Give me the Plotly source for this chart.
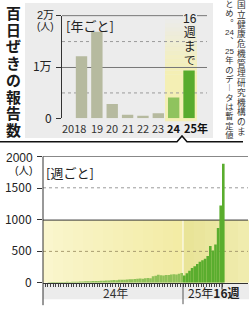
import plotly.graph_objects as go

# ---------------- data ----------------
year_labels = ["2018", "19", "20", "21", "22", "23", "24", "25年"]
annual_cases = [12117, 16850, 2794, 702, 495, 1000, 4054, 9300]

weekly_2024 = [8, 10, 9, 11, 10, 12, 10, 13, 12, 14, 13, 15,
               18, 20, 22, 21, 24, 26, 25, 28, 30, 29, 33, 35,
               38, 42, 40, 45, 48, 46, 52, 55, 53, 58,
               62, 66, 64, 70, 75, 72,
               100, 110, 125, 118, 115, 122, 120, 128, 132, 128, 140, 155]
weekly_2025 = [113, 150, 190, 232, 260, 295, 330, 356, 380, 423,
               580, 510, 605, 865, 1225, 1884]

top_ticks = [0, 10000, 20000]
top_ticktext = ["0", "1万", ""]
bottom_ticks = [0, 500, 1000, 1500, 2000]
bottom_ticktext = ["0", "500", "1000", "1500", ""]

title_text = "百日ぜきの報告数"
note_col1 = list("国立健康危機管理研究機構のま")
note_col2 = ["と", "め", "︒", "24", "︑", "25", "年", "の", "デ", "︱", "タ", "は", "暫", "定", "値"]
until_text = ["16", "週", "ま", "で"]

W, H = 251, 320
FONT = "Noto Sans CJK JP"
VFONT = "Liberation Sans, Noto Sans CJK JP"


def px(x):
    return x / W


def py(y):
    return 1 - y / H


fig = go.Figure()

bar_colors = ["#b6ba9f"] * 6 + ["#8fc35e", "#58ab2d"]
fig.add_trace(go.Bar(x=list(range(len(annual_cases))), y=annual_cases, width=0.74,
                     marker=dict(color=bar_colors, line=dict(width=0)),
                     xaxis="x", yaxis="y", hoverinfo="skip"))
fig.add_trace(go.Bar(x=list(range(len(weekly_2024))), y=weekly_2024, width=1.0,
                     marker=dict(color="#8fc158", line=dict(width=0)),
                     xaxis="x2", yaxis="y2", hoverinfo="skip"))
n24 = len(weekly_2024)
fig.add_trace(go.Bar(x=list(range(n24, n24 + len(weekly_2025))), y=weekly_2025, width=1.0,
                     marker=dict(color="#5aad2e", line=dict(width=0)),
                     xaxis="x2", yaxis="y2", hoverinfo="skip"))

shapes = []


def rect(x0, y0, x1, y1, color, layer="below"):
    shapes.append(dict(type="rect", xref="paper", yref="paper",
                       x0=px(x0), x1=px(x1), y0=py(y1), y1=py(y0),
                       fillcolor=color, line=dict(width=0), layer=layer))


def hline(x0, x1, y, color, width=1, dash="solid", layer="below"):
    shapes.append(dict(type="line", xref="paper", yref="paper",
                       x0=px(x0), x1=px(x1), y0=py(y), y1=py(y),
                       line=dict(color=color, width=width, dash=dash), layer=layer))


def vline(x, y0, y1, color, width=1, layer="below"):
    shapes.append(dict(type="line", xref="paper", yref="paper",
                       x0=px(x), x1=px(x), y0=py(y0), y1=py(y1),
                       line=dict(color=color, width=width), layer=layer))


# top panel background
rect(25, 3, 213, 141, "#ececec")
# yellow highlight behind 24/25 (gradient via strips)
n = 14
for k in range(n):
    y0 = 20 + k * 4
    a = (k + 1) / n
    rect(165, y0, 197, y0 + 4, f"rgba(246,240,170,{a * 0.85:.3f})")
rect(165, 20 + n * 4, 197, 124, "rgba(246,240,170,0.85)")

# top grid lines
hline(62, 207, 16, "#777", 1)
hline(62, 207, 69, "#777", 1)
hline(62, 207, 42.5, "#9a9a9a", 1, "dot")
hline(62, 207, 95, "#9a9a9a", 1, "dot")
rect(183, 13, 197, 19, "#ececec")  # gap in top line behind "16"

# bottom chart backgrounds
m = 14
for k in range(m):
    x0 = 43 + k * 10
    t = k / (m - 1)
    r = int(250 - 7 * t)
    g = int(246 - 10 * t)
    b = int(205 - 40 * t)
    rect(x0, 225, min(x0 + 10.5, 183), 289, f"rgb({r},{g},{b})")
for k in range(6):
    x0 = 183 + k * 11
    t = k / 5
    r = int(233 + 7 * t)
    g = int(228 + 8 * t)
    b = int(152 + 22 * t)
    rect(x0, 225, min(x0 + 11.5, 249), 289, f"rgb({r},{g},{b})")
vline(183, 225, 289, "white", 1)
# label band under weekly axis
rect(43, 290, 249, 306, "#ececec")

# bottom grid lines
hline(43, 248, 160, "#888", 1)
hline(43, 248, 192, "#9a9a9a", 1, "dot")
hline(43, 248, 225, "#333", 1)
hline(43, 248, 257, "#a89c70", 1, "dot")

# bottom y-axis line (extends through label band)
vline(43, 160, 312, "#333", 1)
vline(183, 290, 311, "#555", 1)
vline(222, 289, 296, "#333", 1)

# separator line with caret
path = (f"M {px(0)},{py(145)} L {px(177)},{py(145)} L {px(182)},{py(139)} "
        f"L {px(187)},{py(145)} L {px(243)},{py(145)}")
shapes.append(dict(type="path", xref="paper", yref="paper", path=path,
                   line=dict(color="#111", width=1.5), layer="above"))

annotations = []


def ann(text, x, y, size=11, bold=False, xanchor="center", color="#222",
        xref="paper", family=FONT):
    annotations.append(dict(
        text=f"<b>{text}</b>" if bold else text,
        x=px(x) if xref == "paper" else x, y=py(y), xref=xref, yref="paper",
        xanchor=xanchor, yanchor="middle", showarrow=False,
        font=dict(family=family, size=size, color=color), borderpad=0))


def column(chars, x, y_first, y_last, size, bold=False, color="#222", sizes=None):
    """Vertical (tategaki) text: one annotation, one character per line."""
    pitch = (y_last - y_first) / (len(chars) - 1)
    base = pitch / 1.3
    parts = []
    for i, ch in enumerate(chars):
        s = sizes[i] if sizes else size
        t = f"<span style='font-size:{s}px'>{ch}</span>"
        parts.append(f"<b>{t}</b>" if bold else t)
    ann("<br>".join(parts), x, (y_first + y_last) / 2, size=base, color=color,
        family=VFONT)


# vertical title
column(list(title_text), 13, 15.5, 132.5, 14.9, bold=True, color="#1a1a1a")

# vertical note (right column first)
column(note_col1, 241, 7, 134, 8.7, color="#333")
column(note_col2, 229, 6, 137, 8.3, color="#333",
       sizes=[8.3, 8.3, 8.3, 8, 8.3, 8, 8.3, 8.3, 8.3, 8.3, 8.3, 8.3, 8.3, 8.3, 8.3])

# "16週まで"
column(until_text, 190, 20, 62, 12, color="#222")

# top labels
ann("[年ごと]", 65, 26, size=13, xanchor="left")
ann("2万", 55, 15, size=11, xanchor="right", family=VFONT)
ann("(人)", 55, 27.5, size=10, xanchor="right", family=VFONT)

# year labels under annual bars
for i, lab in enumerate(year_labels):
    if i == 0:
        ann(lab, i + 0.37, 131, size=11, xanchor="right", xref="x", color="#333")
    elif i == 7:
        ann(lab, i - 0.4, 131, size=11, bold=True, xanchor="left", xref="x", color="#111")
    elif i == 6:
        ann(lab, i, 131, size=11, bold=True, xref="x", color="#111")
    else:
        ann(lab, i, 131, size=11, xref="x", color="#333")

# weekly labels
ann("[週ごと]", 45, 176, size=13, xanchor="left")
ann("2000", 34, 161.5, size=12, xanchor="right", family=VFONT)
ann("(人)", 34, 174, size=10.5, xanchor="right", family=VFONT)
ann("24年", 115, 299, size=12, color="#333")
ann("25年<b>16週</b>", 214, 299, size=12, color="#222")

fig.update_layout(
    width=W, height=H, autosize=False,
    margin=dict(l=0, r=0, t=0, b=0, pad=0),
    paper_bgcolor="white", plot_bgcolor="rgba(0,0,0,0)",
    showlegend=False, barmode="overlay",
    font=dict(family=FONT, color="#222", size=11),
    xaxis=dict(domain=[px(62), px(207)], range=[-1.27, 8.17], visible=False,
               fixedrange=True),
    yaxis=dict(domain=[py(121), py(16)], range=[0, 20000], tickvals=top_ticks,
               ticktext=top_ticktext, ticks="outside", ticklen=5, tickcolor="#333",
               showline=True, linecolor="#333", linewidth=1, showgrid=False,
               zeroline=False, tickfont=dict(size=12, color="#222"),
               ticklabelstandoff=2, fixedrange=True),
    xaxis2=dict(domain=[px(43), px(248)], range=[-2.35, 76.5], anchor="y2",
                tickvals=[i - 0.5 for i in range(-1, 68)], showticklabels=False,
                ticks="outside", ticklen=3, tickcolor="#444", tickwidth=1,
                showline=True, linecolor="#333", linewidth=1.5, showgrid=False,
                zeroline=False, fixedrange=True),
    yaxis2=dict(domain=[py(289), py(160)], range=[0, 2000], anchor="x2",
                tickvals=bottom_ticks, ticktext=bottom_ticktext, ticks="outside",
                ticklen=5, tickcolor="#333", showline=False, showgrid=False,
                zeroline=False, tickfont=dict(size=12, color="#222"),
                ticklabelstandoff=3, fixedrange=True),
    shapes=shapes,
    annotations=annotations,
)

fig.write_html("out.html", config={"displayModeBar": False, "staticPlot": True})
